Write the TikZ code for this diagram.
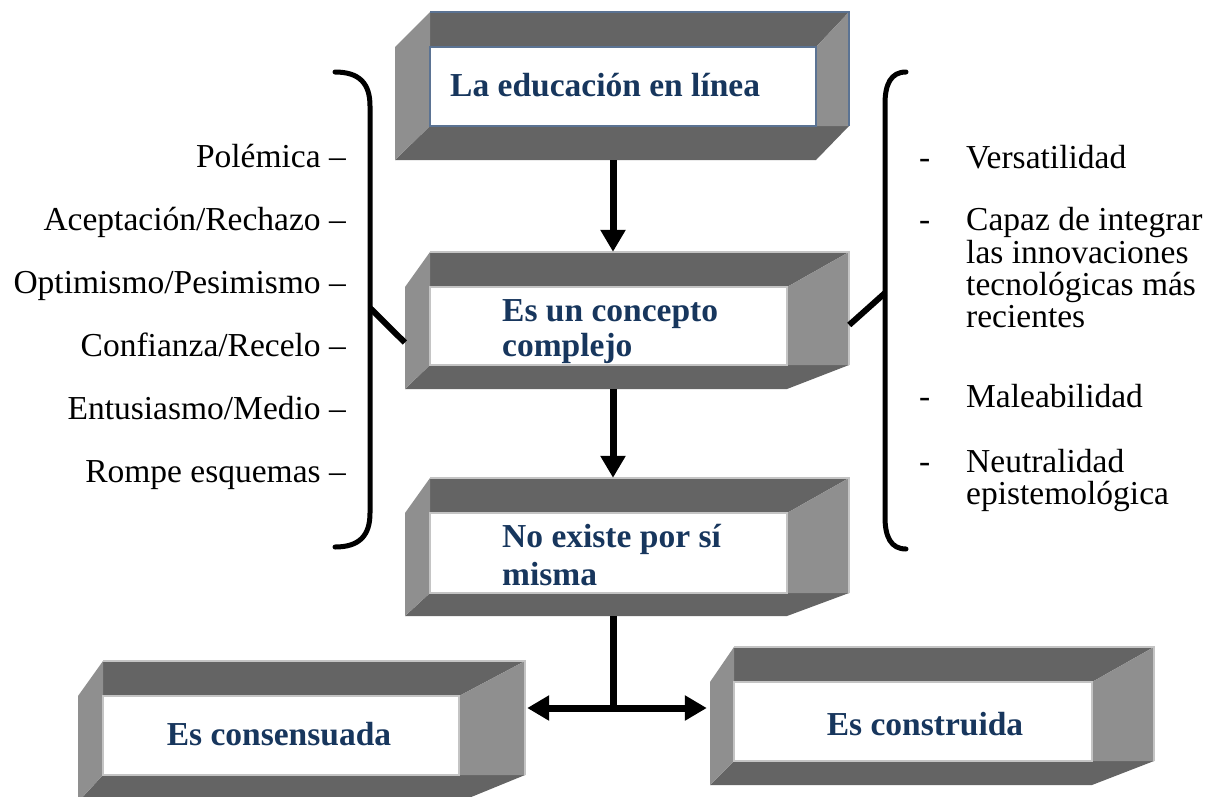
\documentclass[tikz,border=0pt]{standalone}
\usepackage{fontspec}
\setmainfont{Liberation Serif}
\usetikzlibrary{arrows.meta,fit,calc}
\definecolor{navy}{HTML}{17365D}
\definecolor{darkpanel}{HTML}{646464}
\definecolor{lightpanel}{HTML}{8F8F8F}
\definecolor{edgegray}{HTML}{C4C4C4}
\definecolor{edgeblue}{HTML}{5B7393}
\tikzset{
  boxline/.style={draw=edgegray, line width=1.5pt},
  conn/.style={line width=7pt, draw=black},
  arr/.style={conn, -{Triangle[length=22pt,width=24pt]}},
  darr/.style={conn, {Triangle[length=22pt,width=24pt]}-{Triangle[length=22pt,width=24pt]}},
  brack/.style={line width=5pt, draw=black, line cap=round},
  plain/.style={inner sep=0pt, font=\fontsize{33.5}{40}\selectfont},
  title/.style={inner sep=0pt, font=\fontsize{33.5}{40}\selectfont\bfseries, text=navy},
}
% #1 name, #2 L, #3 T, #4 R, #5 B, #6 iL, #7 iT, #8 iR, #9 iB
\newcommand\bevbox[9]{%
  \fill[darkpanel] (#6,#3) -- (#4,#3) -- (#8,#7) -- (#6,#7) -- cycle;
  \fill[darkpanel] (#6,#9) -- (#4,#9) -- (#8,#5) -- (#2,#5) -- cycle;
  \fill[lightpanel] (#2,#7) -- (#6,#3) -- (#6,#9) -- (#2,#5) -- cycle;
  \fill[lightpanel] (#8,#7) -- (#4,#3) -- (#4,#9) -- (#8,#9) -- cycle;
  \fill[white] (#6,#7) rectangle (#8,#9);
  \draw[boxline] (#6,#7) rectangle (#8,#9);
  \draw[boxline] (#6,#3) -- (#4,#3) -- (#4,#9);
  \node[fit={(#2,#3) (#4,#5)}, inner sep=0pt] (#1) {};
}
\begin{document}
\begin{tikzpicture}[x=1pt,y=-1pt]
\useasboundingbox[fill=white] (0,0) rectangle (1211,796);

% boxes
\begin{scope}[boxline/.style={draw=edgeblue, line width=1.5pt}]
\bevbox{b1}{395}{12}{849}{160}{430}{47}{816}{126}
\end{scope}
\bevbox{b2}{405}{252}{849}{389}{430}{287}{787}{365}
\bevbox{b3}{405}{478}{849}{616}{430}{513}{787}{593}
\bevbox{b4}{78}{661}{525}{802}{103}{696}{459}{775}
\bevbox{b5}{710}{647}{1154}{785}{734}{682}{1092}{761}

% box texts
\node[title, anchor=base west] (t1) at (450,96) {La educación en línea};
\node[title, anchor=base west] (t2a) at (502,321) {Es un concepto};
\node[title, anchor=base west] (t2b) at (502,356) {complejo};
\node[title, anchor=base west] (t3a) at (502,547) {No existe por sí};
\node[title, anchor=base west] (t3b) at (502,585) {misma};
\node[title, anchor=base] (t4) at (279,745) {Es consensuada};
\node[title, anchor=base] (t5) at (925,735) {Es construida};

% connectors
\coordinate (spine) at (613,0);
\coordinate (junc) at (613,708);
\draw[arr] (b1.south -| spine) -- (b2.north -| spine);
\draw[arr] (b2.south -| spine) -- (b3.north -| spine);
\draw[conn] (b3.south -| spine) -- (junc);
\draw[darr] ($(b4.east |- junc)+(2,0)$) -- ($(b5.west |- junc)+(-3,0)$);

% left bracket
\coordinate (lbt) at (335,72);
\coordinate (lbb) at (335,547);
\coordinate (lbr) at (370,308);
\draw[brack] (lbt) .. controls (360,72) and (370,84) .. (370,106)
  -- (370,513) .. controls (370,535) and (360,547) .. (lbb);
\draw[conn, line width=6pt] (lbr) -- ($(b2.west)+(0,22)$);

% right bracket
\coordinate (rbt) at (906,72);
\coordinate (rbb) at (906,549);
\coordinate (rbr) at (885,293);
\draw[brack] (rbt) .. controls (891,72) and (885,84) .. (885,104)
  -- (885,517) .. controls (885,537) and (891,549) .. (rbb);
\draw[conn, line width=6pt] (rbr) -- ($(b2.east)+(0,4.5)$);

% left list
\node[plain, anchor=base east] (l1) at (346,167) {Polémica –};
\node[plain, anchor=base east] (l2) at (346,230) {Aceptación/Rechazo –};
\node[plain, anchor=base east] (l3) at (346,293) {Optimismo/Pesimismo –};
\node[plain, anchor=base east] (l4) at (346,356) {Confianza/Recelo –};
\node[plain, anchor=base east] (l5) at (346,419) {Entusiasmo/Medio –};
\node[plain, anchor=base east] (l6) at (346,482) {Rompe esquemas –};

% right list
\node[plain, anchor=base west] (h1) at (919,168) {-};
\node[plain, anchor=base west] (r1) at (966,168) {Versatilidad};
\node[plain, anchor=base west] (h2) at (919,230) {-};
\node[plain, anchor=base west] (r2a) at (966,230) {Capaz de integrar};
\node[plain, anchor=base west] (r2b) at (966,263) {las innovaciones};
\node[plain, anchor=base west] (r2c) at (966,295) {tecnológicas más};
\node[plain, anchor=base west] (r2d) at (966,327) {recientes};
\node[plain, anchor=base west] (h3) at (919,407) {-};
\node[plain, anchor=base west] (r3) at (966,407) {Maleabilidad};
\node[plain, anchor=base west] (h4) at (919,472) {-};
\node[plain, anchor=base west] (r4a) at (966,472) {Neutralidad};
\node[plain, anchor=base west] (r4b) at (966,504) {epistemológica};
\end{tikzpicture}
\end{document}
